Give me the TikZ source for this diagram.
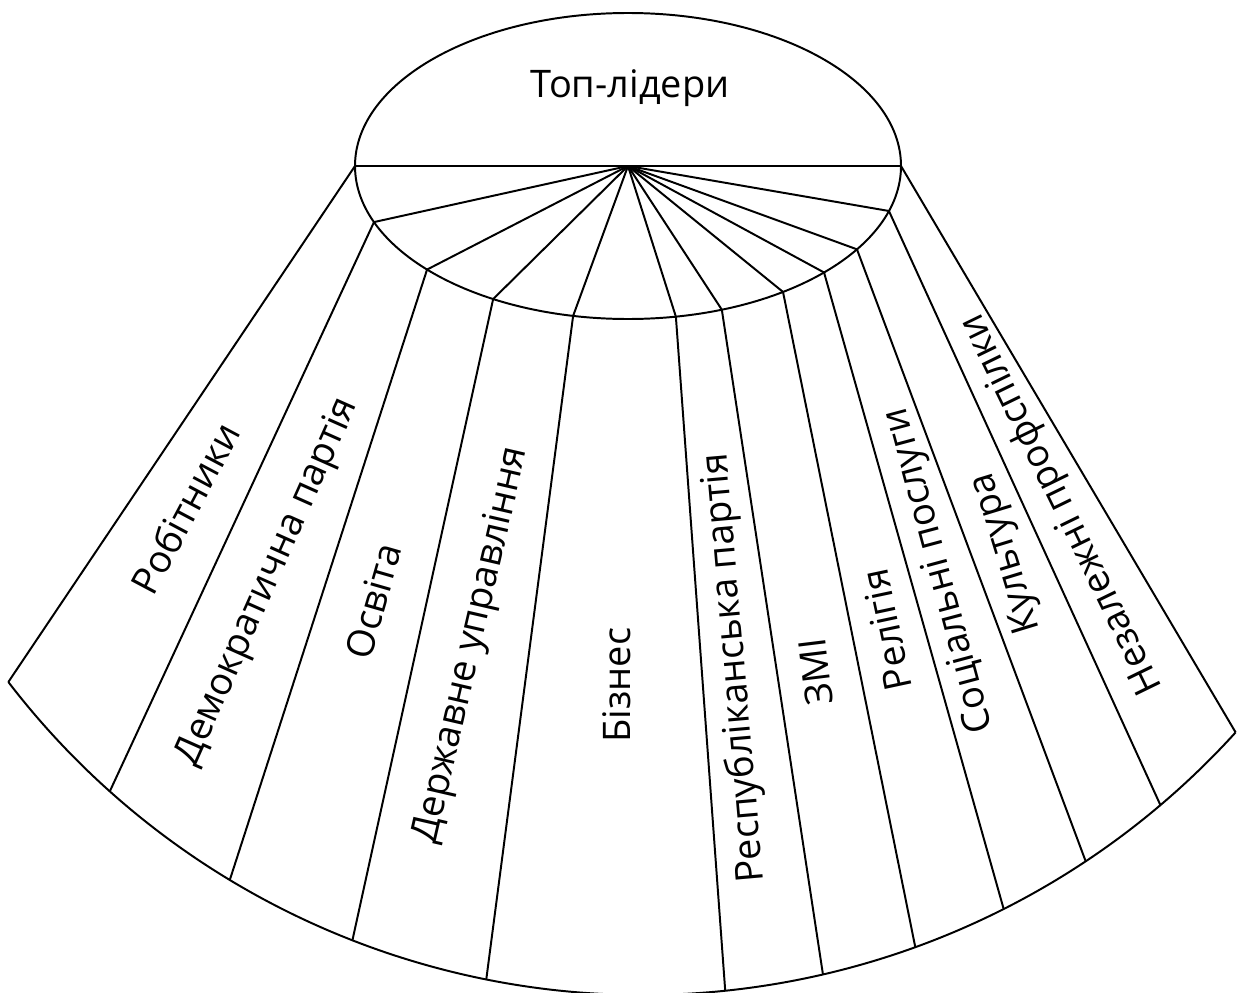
\documentclass[tikz,border=0pt]{standalone}
\usepackage{fontspec}
\setmainfont{Open Sans}
\usetikzlibrary{calc}
\tikzset{
  fanline/.style={line width=1.4pt, draw=black},
  sectorlabel/.style={
    font=\fontsize{27}{31}\selectfont,
    inner sep=0pt, text=black
  },
}

\begin{document}
\begin{tikzpicture}[x=0.025cm, y=-0.025cm]
  \useasboundingbox (0,0) rectangle (1240,992);
  % centre of the ellipse and of the outer arc
  \coordinate (hub) at (628,166);
  \coordinate (arcc) at (643,195);
  % points on the ellipse
  \coordinate (e0)  at ($(hub)+(180:273 and 153)$);
  \coordinate (e1)  at ($(hub)+(158.5:273 and 153)$);
  \coordinate (e2)  at ($(hub)+(137.4:273 and 153)$);
  \coordinate (e3)  at ($(hub)+(119.6:273 and 153)$);
  \coordinate (e4)  at ($(hub)+(101.6:273 and 153)$);
  \coordinate (e5)  at ($(hub)+(79.9:273 and 153)$);
  \coordinate (e6)  at ($(hub)+(69.9:273 and 153)$);
  \coordinate (e7)  at ($(hub)+(55.4:273 and 153)$);
  \coordinate (e8)  at ($(hub)+(44.1:273 and 153)$);
  \coordinate (e9)  at ($(hub)+(33.0:273 and 153)$);
  \coordinate (e10) at ($(hub)+(17.1:273 and 153)$);
  \coordinate (e11) at ($(hub)+(0:273 and 153)$);
  % points on the outer arc
  \coordinate (a0)  at ($(arcc)+(142.5:800)$);
  \coordinate (a1)  at ($(arcc)+(131.8:800)$);
  \coordinate (a2)  at ($(arcc)+(121.1:800)$);
  \coordinate (a3)  at ($(arcc)+(111.3:800)$);
  \coordinate (a4)  at ($(arcc)+(101.3:800)$);
  \coordinate (a5)  at ($(arcc)+(84.1:800)$);
  \coordinate (a6)  at ($(arcc)+(77.0:800)$);
  \coordinate (a7)  at ($(arcc)+(70.1:800)$);
  \coordinate (a8)  at ($(arcc)+(63.2:800)$);
  \coordinate (a9)  at ($(arcc)+(56.4:800)$);
  \coordinate (a10) at ($(arcc)+(49.7:800)$);
  \coordinate (a11) at ($(arcc)+(42.2:800)$);

  \draw[fanline] (hub) ellipse[x radius=273, y radius=153];
  \draw[fanline] (e0) -- (e11);
  \draw[fanline] (hub) -- (e1);
  \draw[fanline] (hub) -- (e2);
  \draw[fanline] (hub) -- (e3);
  \draw[fanline] (hub) -- (e4);
  \draw[fanline] (hub) -- (e5);
  \draw[fanline] (hub) -- (e6);
  \draw[fanline] (hub) -- (e7);
  \draw[fanline] (hub) -- (e8);
  \draw[fanline] (hub) -- (e9);
  \draw[fanline] (hub) -- (e10);
  \draw[fanline] (e0) -- (a0);
  \draw[fanline] (e1) -- (a1);
  \draw[fanline] (e2) -- (a2);
  \draw[fanline] (e3) -- (a3);
  \draw[fanline] (e4) -- (a4);
  \draw[fanline] (e5) -- (a5);
  \draw[fanline] (e6) -- (a6);
  \draw[fanline] (e7) -- (a7);
  \draw[fanline] (e8) -- (a8);
  \draw[fanline] (e9) -- (a9);
  \draw[fanline] (e10) -- (a10);
  \draw[fanline] (e11) -- (a11);
  \draw[fanline] (a0) arc[start angle=142.5, end angle=42.2, radius=800];

  % labels
  \node[sectorlabel] (top) at (630,88) {Топ-лідери};
  \node[sectorlabel, rotate=62]  (workers)  at (185,508) {Робітники};
  \node[sectorlabel, rotate=66]  (demparty) at (268,582) {Демократична партія};
  \node[sectorlabel, rotate=74]  (edu)      at (373,601) {Освіта};
  \node[sectorlabel, rotate=77]  (govt)     at (472,645) {Державне управління};
  \node[sectorlabel, rotate=90]  (biz)      at (617,685) {Бізнес};
  \node[sectorlabel, rotate=95]  (repparty) at (735,668) {Республіканська партія};
  \node[sectorlabel, rotate=97]  (media)    at (816,672) {ЗМІ};
  \node[sectorlabel, rotate=102] (relig)    at (886,630) {Релігія};
  \node[sectorlabel, rotate=105] (social)   at (940,570) {Соціальні послуги};
  \node[sectorlabel, rotate=107] (culture)  at (1007,553) {Культура};
  \node[sectorlabel, rotate=116] (unions)   at (1062,504) {Незалежні профспілки};
\end{tikzpicture}
\end{document}
